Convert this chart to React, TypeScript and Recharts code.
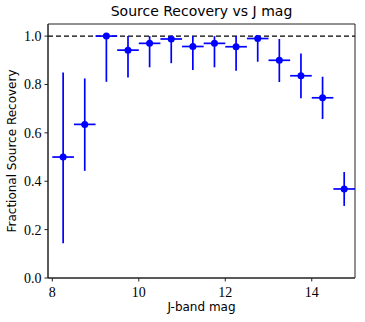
import React from "react";
import {
  ErrorBar,
  ReferenceArea,
  ReferenceLine,
  Scatter,
  ScatterChart,
  XAxis,
  YAxis,
} from "recharts";

const jMag = [8.25, 8.75, 9.25, 9.75, 10.25, 10.75, 11.25, 11.75, 12.25, 12.75, 13.25, 13.75, 14.25, 14.75];
const recovery = [0.5, 0.635, 1.0, 0.942, 0.97, 0.988, 0.957, 0.97, 0.956, 0.99, 0.9, 0.836, 0.745, 0.368];
const errLow = [0.356, 0.192, 0.189, 0.113, 0.099, 0.1, 0.097, 0.099, 0.099, 0.096, 0.09, 0.093, 0.088, 0.07];
const errHigh = [0.35, 0.19, 0.0, 0.058, 0.03, 0.012, 0.043, 0.03, 0.044, 0.01, 0.088, 0.092, 0.087, 0.07];
const binHalfWidth = [0.25, 0.25, 0.25, 0.25, 0.25, 0.25, 0.25, 0.25, 0.25, 0.25, 0.25, 0.25, 0.25, 0.25];
const xTicks = [8, 10, 12, 14];
const yTicks = [0, 0.2, 0.4, 0.6, 0.8, 1.0];

const data = jMag.map((x, i) => ({
  x,
  y: recovery[i],
  yErr: [errLow[i], errHigh[i]],
  xErr: [binHalfWidth[i], binHalfWidth[i]],
}));

const BLUE = "#0000ff";
const SANS = "'DejaVu Sans', sans-serif";
const SERIF = "'Liberation Serif', 'DejaVu Serif', serif";

const Dot = (props: any) => <circle cx={props.cx} cy={props.cy} r={3.5} fill={BLUE} />;

const XTick = (p: any) => (
  <text x={p.x} y={p.y + 13} textAnchor="middle" style={{ fontFamily: SERIF, fontSize: 14 }} fill="#000">
    {p.payload.value}
  </text>
);

const YTick = (p: any) => (
  <text x={p.x - 1} y={p.y + 5} textAnchor="end" style={{ fontFamily: SERIF, fontSize: 14 }} fill="#000">
    {Number(p.payload.value).toFixed(1)}
  </text>
);

export default function App() {
  return (
    <div style={{ position: "absolute", left: 0, top: 0, width: 365, height: 322, background: "#fff" }}>
      <div
        style={{
          position: "absolute",
          left: 48,
          width: 307,
          top: 3,
          textAlign: "center",
          fontFamily: SANS,
          fontSize: 14,
          color: "#000",
        }}
      >
        Source Recovery vs J mag
      </div>
      <ScatterChart width={365} height={322} margin={{ top: 24, right: 10, bottom: 0, left: 0 }}>
        <XAxis
          type="number"
          dataKey="x"
          domain={[7.9, 15]}
          ticks={xTicks}
          allowDataOverflow
          height={44}
          stroke="#222"
          tickSize={3.5}
          tick={XTick}
          label={(p: any) => {
            const vb = p.viewBox;
            return (
              <text x={vb.x + vb.width / 2} y={311} textAnchor="middle" fontFamily={SANS} fontSize={12} fill="#000">
                J-band mag
              </text>
            );
          }}
        />
        <YAxis
          type="number"
          dataKey="y"
          domain={[0, 1.05]}
          ticks={yTicks}
          allowDataOverflow
          width={48}
          stroke="#222"
          tickSize={3.5}
          tick={YTick}
          label={(p: any) => {
            const vb = p.viewBox;
            const cy = vb.y + vb.height / 2;
            return (
              <text
                x={16}
                y={cy}
                transform={`rotate(-90 16 ${cy})`}
                textAnchor="middle"
                fontFamily={SANS}
                fontSize={12}
                fill="#000"
              >
                Fractional Source Recovery
              </text>
            );
          }}
        />
        <ReferenceArea x1={7.9} x2={15} y1={0} y2={1.05} fill="none" stroke="#222" strokeWidth={1} />
        <ReferenceLine y={1} stroke="#000" strokeWidth={1.3} strokeDasharray="5 3" />
        <Scatter data={data} fill={BLUE} shape={Dot} isAnimationActive={false}>
          <ErrorBar dataKey="yErr" direction="y" width={0} stroke={BLUE} strokeWidth={1.7} />
          <ErrorBar dataKey="xErr" direction="x" width={0} stroke={BLUE} strokeWidth={1.7} />
        </Scatter>
      </ScatterChart>
    </div>
  );
}
